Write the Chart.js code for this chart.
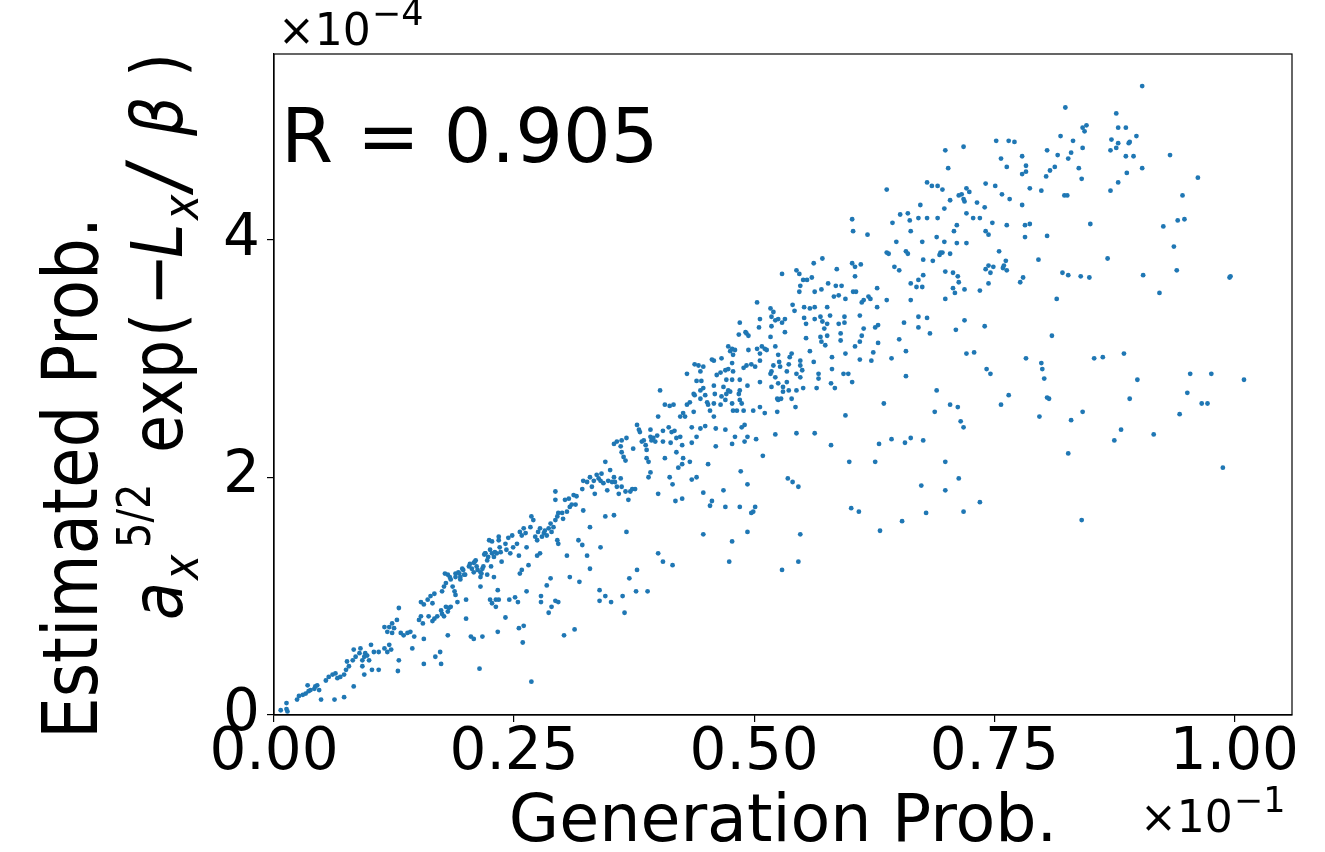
<!DOCTYPE html>
<html>
<head>
<meta charset="utf-8">
<script src="https://cdn.jsdelivr.net/npm/chart.js@4.4.1/dist/chart.umd.min.js"></script>
<style>
  html, body { margin: 0; padding: 0; background: #fff; }
  #wrap { width: 1325px; height: 852px; position: relative; }
</style>
</head>
<body>
<div id="wrap"><canvas id="chart"></canvas></div>
<script>
// Generation prob. (x, units of 1e-1) and estimated prob. (y, units of 1e-4)
const genProb = [
  // lower-left band
  .007,.013,.013,.014,.024,.026,.030,.033,.035,.036,.038,.042,.043,.045,.047,.049,.063,.073,.083,.054,
  .057,.061,.064,.066,.069,.073,.075,.078,.076,.082,.083,.085,.089,.090,.092,.094,.095,.097,.099,.092,
  .094,.102,.109,.101,.104,.109,.115,.118,.120,.122,.115,.118,.120,.123,.125,.128,.130,.130,.129,.123,
  .132,.135,.139,.142,.146,.144,.156,.156,.151,.153,.155,.153,.156,.160,.163,.165,.167,.161,.165,.167,
  .170,.168,.173,.174,.174,.175,.177,.179,.181,.182,.184,.181,.175,.177,.179,.181,.184,.186,.188,.189,
  .191,.189,.193,.196,.194,.198,.200,.200,.205,.208,.217,.214,.203,.208,.210,.212,.215,.217,.219,.220,
  .222,.224,.226,.227,.215,.225,.227,
  // band 0.17 - 0.40
  .178,.183,.189,.192,.194,.197,.199,.204,.206,.208,.209,.211,.215,.216,.218,.220,.222,.223,.225,.227,
  .229,.230,.232,.234,.235,.236,.237,.229,.234,.241,.242,.244,.246,.248,.249,.253,.255,.256,.258,.260,
  .262,.256,.258,.265,.263,.267,.268,.270,.272,.274,.275,.277,.279,.281,.282,.284,.286,.288,.289,.291,
  .293,.295,.293,.296,.293,.295,.296,.300,.301,.303,.305,.307,.308,.310,.312,.314,.315,.305,.317,.321,
  .322,.321,.322,.326,.329,.331,.333,.334,.336,.338,.340,.341,.343,.345,.347,.348,.350,.352,.354,.355,
  .357,.359,.361,.362,.345,.354,.329,.340,.326,.354,.357,.361,.362,.364,.366,.367,.362,.366,.369,.371,
  .373,.376,.378,.380,.381,.383,.385,.387,.388,.388,.390,.392,.393,.395,.397,.399,.400,.400,.402,.392,
  .390,.392,.374,.367,.378,.400,.329,.308,.288,.277,.274,
  // below the band 0.23 - 0.40
  .233,.231,.234,.231,.245,.251,.254,.263,.241,.233,.255,.260,.259,.268,.278,.278,.284,.289,.286,.293,
  .296,.302,.313,.318,.339,.345,.339,.351,.363,.365,.370,.377,.389,
  // band 0.40 - 0.63
  .602,.603,.618,.571,.562,.544,.547,.529,.551,.555,.560,.548,.547,.563,.570,.577,.586,.585,.591,.583,
  .588,.595,.602,.605,.611,.605,.603,.606,.614,.619,.621,.628,.628,.612,.503,.517,.520,.518,.522,.525,
  .532,.529,.540,.542,.552,.558,.563,.576,.552,.554,.563,.569,.571,.576,.579,.573,.594,.594,.588,.610,
  .485,.506,.505,.518,.532,.492,.494,.484,.491,.517,.554,.569,.576,.570,.574,.590,.590,.614,.612,.610,
  .629,.626,.629,.605,.595,.610,.622,.624,.473,.477,.480,.475,.478,.494,.503,.508,.511,.513,.522,.506,
  .525,.539,.537,.536,.548,.548,.550,.558,.562,.581,.567,.567,.581,.593,.598,.602,.580,.584,.565,.458,
  .456,.466,.438,.442,.447,.444,.430,.445,.440,.461,.465,.470,.473,.477,.478,.489,.492,.497,.501,.506,
  .520,.526,.527,.518,.517,.522,.534,.544,.548,.458,.459,.468,.471,.477,.485,.473,.475,.471,.485,.484,
  .493,.506,.518,.525,.530,.534,.536,.530,.524,.525,.528,.539,.544,.551,.485,.487,.477,.478,.482,.489,
  .499,.506,.511,.524,.543,.595,.407,.412,.416,.423,.426,.430,.433,.437,.438,.444,.444,.447,.449,
  .451,.452,.454,.458,.465,.466,.470,.458,.437,.428,
  // below the band 0.40 - 0.63
  .435,.444,.449,.460,.470,.487,.490,.405,.411,.414,.417,.405,.413,.419,.423,.425,.435,.440,.480,.477,
  .493,.490,.502,.460,.522,.544,.563,.580,.407,.419,.426,.425,.421,.433,.452,.509,.486,.599,.626,.630,
  .412,.415,.435,.440,.418,.425,.447,.468,.493,.454,.456,.470,.485,.501,.499,.497,.535,.540,.546,.601,
  .609,.447,.477,.493,.548,.631,.405,.415,.474,.529,.546,
  // upper band 0.63 - 0.85
  .824,.846,.842,.844,.819,.832,.752,.765,.771,.699,.718,.805,.816,.830,.827,.842,.779,.757,.763,.783,
  .783,.779,.702,.808,.813,.804,.838,.841,.638,.680,.685,.691,.696,.741,.751,.721,.724,.716,.713,.718,
  .719,.704,.758,.766,.787,.799,.823,.826,.673,.732,.740,.779,.698,.652,.660,.644,.662,.671,.680,.691,
  .721,.728,.735,.748,.850,.663,.711,.708,.741,.744,.763,.782,.787,.782,.805,.648,.675,.690,.698,.711,
  .721,.638,.640,.658,.660,.694,.693,.696,.704,.676,.686,.755,.796,.646,.651,.699,.707,.712,.741,.744,
  .749,.746,.759,.762,.763,.760,.821,.827,.840,.849,.744,.735,.713,.707,.709,.719,.780,.777,.663,.671,
  .676,.669,.675,.815,.699,.663,.638,.671,.680,.719,.740,.656,.671,.683,.710,.651,.810,
  // lower scatter 0.63 - 0.85
  .643,.658,.658,.721,.729,.783,.799,.800,.802,.742,.746,.690,.635,.688,.704,.712,.715,.718,.757,.765,
  .805,.807,.797,.830,.842,.643,.657,.663,.676,.699,.713,.674,.699,.735,.679,.718,.654,.827,.841,
  // right edge
  .904,.877,.879,.887,.898,.872,.879,.890,.891,.877,.871,.887,.895,.904,.933,.888,.879,.871,.962,.946,
  .926,.941,.948,.937,.868,.905,.940,.995,.996,.922,.854,.863,.885,.899,.954,.976,1.010,
  .891,.951,.966,.972,.943,.882,.875,.916,.988
];
const estProb = [
  .04,.05,.10,.03,.13,.16,.17,.18,.25,.20,.21,.22,.24,.25,.21,.13,.13,.15,.24,.29,
  .32,.34,.35,.31,.32,.34,.38,.41,.45,.46,.55,.49,.52,.56,.46,.49,.52,.50,.46,.41,
  .34,.38,.38,.59,.53,.53,.56,.53,.59,.55,.74,.70,.74,.77,.73,.80,.90,.46,.37,.69,
  .69,.67,.69,.70,.66,.56,.43,.64,.80,.83,.77,.95,.93,.97,1.00,.94,1.02,.83,.79,.81,
  .83,.49,.53,.43,.88,.85,.83,.91,.87,.90,.91,.67,1.04,1.08,1.11,1.18,1.14,1.08,1.04,1.01,
  .95,1.16,1.19,1.23,1.14,1.18,.97,.81,.66,.64,.66,.39,1.25,1.28,1.30,1.22,1.16,1.23,1.35,1.36,
  1.18,1.47,1.25,1.46,1.08,.97,.94,
  1.19,1.16,1.19,1.20,1.16,1.22,1.18,1.27,1.23,1.20,1.29,1.25,1.20,1.19,1.25,1.36,1.30,1.33,1.39,1.36,
  1.33,1.37,1.36,1.47,1.41,1.37,1.29,1.16,1.50,1.44,1.39,1.49,1.36,1.51,1.41,1.44,1.34,1.54,1.51,1.57,
  1.53,1.19,1.22,1.26,1.41,1.58,1.67,1.64,1.50,1.47,1.54,1.57,1.50,1.53,1.55,1.51,1.57,1.61,1.54,1.58,
  1.64,1.67,1.88,1.70,1.81,1.47,1.44,1.70,1.65,1.81,1.71,1.82,1.75,1.77,1.85,1.77,1.84,1.34,1.47,1.43,
  1.72,1.90,1.97,1.96,2.00,1.92,1.97,1.86,2.02,1.99,1.97,2.03,1.95,2.13,1.89,1.97,2.06,1.96,2.00,1.96,
  1.92,1.86,1.99,1.92,1.67,1.68,1.58,1.41,1.34,2.28,2.30,2.26,2.21,2.17,2.14,2.33,2.31,1.88,1.81,1.88,
  1.90,1.90,2.44,2.40,2.38,2.30,2.31,2.27,2.23,2.16,2.13,2.34,2.31,2.33,2.30,2.35,2.51,1.86,2.73,2.04,
  2.00,2.40,2.24,1.54,1.22,1.36,1.23,1.16,1.15,1.36,1.34,
  1.05,.97,.97,.91,.97,.99,.95,1.04,.82,.70,.73,.75,.61,.28,1.00,.95,1.09,.91,.86,.96,
  .95,.67,.72,1.12,1.05,1.00,.96,.95,1.00,.86,1.15,1.04,1.04,
  4.17,4.07,4.04,3.84,3.80,3.74,3.71,3.71,3.66,3.66,3.68,3.61,3.56,3.56,3.58,3.63,3.75,3.61,3.61,3.52,
  3.53,3.50,3.80,3.77,3.79,3.69,3.56,3.56,3.49,3.52,3.50,3.59,3.43,3.47,3.47,3.42,3.39,3.35,3.32,3.33,
  3.33,3.30,3.45,3.40,3.43,3.42,3.43,3.43,3.34,3.29,3.33,3.35,3.31,3.29,3.36,3.25,3.35,3.30,3.29,3.36,
  3.30,3.33,3.26,3.27,3.22,3.21,3.19,3.20,3.22,3.18,3.17,3.18,3.19,3.14,3.11,3.21,3.15,3.25,3.19,3.14,
  3.28,3.26,3.13,3.10,3.04,2.99,2.98,3.05,3.10,3.08,3.07,3.06,3.03,3.07,3.08,3.10,3.08,3.07,3.10,3.04,
  3.03,3.04,3.01,2.95,2.98,2.94,2.90,3.06,2.97,3.01,2.87,2.83,2.91,2.87,2.87,2.80,2.79,2.75,2.75,2.98,
  2.99,3.00,2.95,2.94,2.93,2.89,2.87,2.81,2.81,2.86,2.88,2.90,2.91,2.96,2.89,2.92,2.94,2.95,2.93,2.98,
  2.94,2.97,2.93,2.89,2.87,2.84,2.89,2.87,2.84,2.77,2.70,2.76,2.82,2.82,2.82,2.73,2.72,2.70,2.73,2.70,
  2.77,2.80,2.76,2.79,2.76,2.80,2.73,2.72,2.66,2.65,2.66,2.66,2.73,2.75,2.65,2.62,2.62,2.56,2.56,2.56,
  2.56,2.59,2.54,2.55,2.59,2.52,2.61,2.60,2.61,2.51,2.54,2.61,2.63,2.70,2.69,2.73,2.66,2.75,2.69,
  2.63,2.61,2.56,2.62,2.61,2.68,2.65,2.51,2.55,2.51,
  2.42,2.41,2.43,2.41,2.40,2.42,2.44,2.39,2.42,2.38,2.39,2.30,2.29,2.33,2.34,2.27,2.29,2.34,2.34,2.28,
  2.34,2.30,2.32,2.26,2.36,2.37,2.37,2.27,2.16,2.21,2.16,2.11,2.08,2.13,2.11,2.18,2.05,2.13,2.13,2.28,
  2.00,1.94,1.98,2.00,1.80,1.82,1.87,1.89,1.94,1.76,1.80,1.75,1.75,1.75,1.71,1.70,1.99,1.96,1.92,1.74,
  1.71,1.52,1.46,1.54,1.52,1.55,1.29,1.26,1.29,1.22,1.29,
  5.11,4.96,4.94,4.91,4.87,4.83,4.83,4.83,4.82,4.75,4.78,4.75,4.71,4.73,4.68,4.77,4.70,4.68,4.61,4.62,
  4.57,4.55,4.60,4.58,4.61,4.53,4.60,4.51,4.42,4.48,4.45,4.45,4.42,4.47,4.45,4.43,4.40,4.38,4.37,4.34,
  4.32,4.33,4.38,4.34,4.43,4.41,4.37,4.37,4.29,4.31,4.27,4.29,4.26,4.21,4.22,4.14,4.16,4.18,4.18,4.18,
  4.22,4.18,4.18,4.14,4.13,4.07,4.12,4.07,4.07,4.04,4.12,4.12,4.13,4.02,4.03,3.98,3.98,4.02,3.98,3.97,
  3.97,3.89,3.88,3.90,3.88,3.89,3.87,3.89,3.88,3.83,3.82,3.90,3.83,3.77,3.74,3.73,3.72,3.69,3.75,3.78,
  3.77,3.72,3.76,3.82,3.74,3.78,3.72,3.70,3.69,3.68,3.63,3.57,3.64,3.59,3.55,3.58,3.68,3.64,3.63,3.66,
  3.70,3.60,3.60,3.50,3.50,3.49,3.49,3.35,3.34,3.32,3.27,3.30,3.26,3.21,3.24,3.16,3.19,
  3.00,3.06,2.85,3.04,3.05,3.00,2.96,2.91,2.83,2.91,2.87,2.73,2.62,2.55,2.61,2.59,2.47,2.42,2.61,2.69,
  2.67,2.66,2.51,2.48,2.55,2.32,2.29,2.33,2.31,2.13,1.99,1.93,1.89,1.79,1.70,1.71,1.63,2.20,1.64,
  5.29,5.06,4.94,4.94,4.87,4.84,4.81,4.81,4.82,4.77,4.75,4.70,4.70,4.60,4.71,4.56,4.48,4.41,4.52,4.37,
  4.11,4.16,4.17,3.94,3.84,3.70,3.74,3.68,3.69,3.55,3.00,3.01,3.04,2.82,2.87,2.87,2.82,
  2.66,2.71,2.62,2.62,2.53,2.40,2.31,2.36,2.08
];

const xTicks = [0, 0.25, 0.5, 0.75, 1.0];
const yTicks = [0, 2, 4];
const xRange = [0, 1.06];
const yRange = [0, 5.56];
const xExponent = '1';
const yExponent = '4';
const rLabel = 'R = 0.905';
const xTitle = 'Generation Prob.';
const yTitleTop = 'Estimated Prob.';

const FONT = '"DejaVu Sans", "Liberation Sans", sans-serif';
const DOT = '#1f77b4';

const points = genProb.map((x, i) => ({ x: x, y: estProb[i] }));

// "×10" with a superscript exponent, like matplotlib's offset text
function drawOffset(ctx, x, y, exp) {
  ctx.font = '44px ' + FONT;
  ctx.fillText('\u00d710', x, y);
  const w = ctx.measureText('\u00d710').width;
  ctx.font = '35px ' + FONT;
  ctx.fillText('\u2212' + exp, x + w + 1, y - 20);
}

// second line of the y label: a_x^{5/2} exp( −L_x / β )
const mathParts = [
  { t: 'a',   u: 0,   it: true },
  { t: 'x',   u: 40,  it: true, k: 0.7, dy: 0.22 },
  { t: '5/2', u: 72,  k: 0.65, dy: -0.45 },
  { t: 'exp', u: 167 },
  { t: '(',   u: 283 },
  { t: '\u2212', u: 314 },
  { t: 'L',   u: 362, it: true },
  { t: 'x',   u: 400, it: true, k: 0.7, dy: 0.22 },
  { t: '/',   u: 430, it: true, k: 1.15, dy: 0.04 },
  { t: '\u03b2', u: 484, it: true },
  { t: ')',   u: 543 }
];

const labels = {
  id: 'labels',
  afterDraw(chart) {
    const { ctx, chartArea: a } = chart;
    ctx.save();
    ctx.strokeStyle = '#000';
    ctx.lineWidth = 1.2;
    ctx.strokeRect(a.left, a.top, a.right - a.left, a.bottom - a.top);

    ctx.fillStyle = '#000';
    ctx.textBaseline = 'alphabetic';
    ctx.textAlign = 'left';
    ctx.font = '75px ' + FONT;
    ctx.fillText(rLabel, a.left + 7, a.top + 108);

    drawOffset(ctx, a.left + 4, a.top - 9, yExponent);
    drawOffset(ctx, a.right - 152, a.bottom + 117, xExponent);

    // y title, two rotated lines (glyphs a little wider across the line, as in the picture)
    ctx.save();
    ctx.translate(97, 478);
    ctx.scale(1.16, 1);
    ctx.rotate(-Math.PI / 2);
    ctx.textAlign = 'center';
    ctx.font = '66px ' + FONT;
    ctx.fillText(yTitleTop, 0, 0);
    ctx.restore();

    ctx.save();
    ctx.translate(182, 620);
    ctx.scale(1.16, 1);
    ctx.rotate(-Math.PI / 2);
    const S = 62;
    mathParts.forEach(p => {
      const size = Math.round(S * (p.k || 1));
      ctx.font = (p.it ? 'italic ' : '') + size + 'px ' + FONT;
      ctx.fillText(p.t, p.u, (p.dy || 0) * S);
    });
    ctx.restore();

    ctx.restore();
  }
};

new Chart(document.getElementById('chart'), {
  type: 'scatter',
  data: {
    datasets: [{
      data: points,
      backgroundColor: DOT,
      borderWidth: 0,
      pointRadius: 2.4,
      pointHoverRadius: 2.4
    }]
  },
  options: {
    responsive: true,
    maintainAspectRatio: false,
    animation: false,
    events: [],
    layout: { padding: { top: 54, right: 33, left: 0, bottom: 0 } },
    plugins: { legend: { display: false }, tooltip: { enabled: false } },
    scales: {
      x: {
        type: 'linear',
        min: xRange[0],
        max: xRange[1],
        afterBuildTicks: s => { s.ticks = xTicks.map(v => ({ value: v })); },
        afterFit: s => { s.height = 137; },
        ticks: {
          callback: v => Number(v).toFixed(2),
          font: { family: FONT, size: 58, lineHeight: 1 },
          color: '#000',
          padding: 3,
          maxRotation: 0,
          autoSkip: false
        },
        grid: { drawOnChartArea: false, tickLength: 7, color: '#000', lineWidth: 1.2 },
        border: { color: '#000', width: 1.2 },
        title: {
          display: true,
          text: xTitle,
          color: '#000',
          font: { family: FONT, size: 65, lineHeight: 0.87 },
          padding: { top: 0, bottom: 0 }
        }
      },
      y: {
        type: 'linear',
        min: yRange[0],
        max: yRange[1],
        afterBuildTicks: s => { s.ticks = yTicks.map(v => ({ value: v })); },
        afterFit: s => { s.width = 274; },
        ticks: {
          callback: v => String(v),
          font: { family: FONT, size: 58 },
          color: '#000',
          padding: 7
        },
        grid: { drawOnChartArea: false, tickLength: 7, color: '#000', lineWidth: 1.2 },
        border: { color: '#000', width: 1.2 }
      }
    }
  },
  plugins: [labels]
});
</script>
</body>
</html>
